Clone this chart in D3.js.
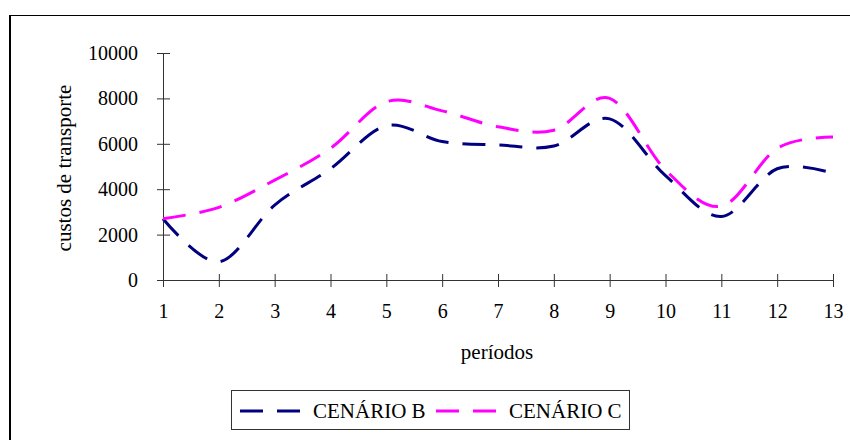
<!DOCTYPE html>
<html>
<head>
<meta charset="utf-8">
<script src="https://cdn.jsdelivr.net/npm/d3@7"></script>
<style>
  html, body { margin: 0; padding: 0; background: #fff; }
  svg { display: block; font-family: "Liberation Serif", "Times New Roman", serif; }
</style>
</head>
<body>
<svg id="chart" width="850" height="440"></svg>
<script>
// Transport costs per period for two scenarios
const periods = [1, 2, 3, 4, 5, 6, 7, 8, 9, 10, 11, 12, 13];
const cenarioB = [2700, 800, 3300, 4900, 6800, 6100, 5950, 5900, 7100, 4600, 2800, 4900, 4700];
const cenarioC = [2700, 3200, 4400, 5800, 7850, 7450, 6750, 6600, 8000, 4850, 3250, 5800, 6300];
const yTicks = [0, 2000, 4000, 6000, 8000, 10000];
const seriesNames = ["CENÁRIO B", "CENÁRIO C"];
const seriesColors = ["#000080", "#FF00FF"];

const svg = d3.select("#chart");
const dash = "23,14";
const serif = "Liberation Serif, Times New Roman, serif";

// outer frame
svg.append("line").attr("x1", 10).attr("y1", 15.5).attr("x2", 850).attr("y2", 15.5)
  .attr("stroke", "#000").attr("stroke-width", 1.2);
svg.append("line").attr("x1", 10).attr("y1", 15).attr("x2", 10).attr("y2", 440)
  .attr("stroke", "#000").attr("stroke-width", 2);

const x = d3.scalePoint().domain(periods).range([163, 833]);
const y = d3.scaleLinear().domain([0, 10000]).range([280, 53]);

// y axis
const yAxis = svg.append("g").attr("transform", "translate(163,0)")
  .call(d3.axisLeft(y).tickValues(yTicks).tickSize(0).tickPadding(25).tickFormat(d3.format("d")));
yAxis.select(".domain").attr("stroke", "#333");
yAxis.selectAll(".tick text").attr("font-size", 20).attr("fill", "#000").attr("font-family", serif);
yAxis.selectAll(".tick").append("line").attr("x1", -6).attr("x2", 7).attr("stroke", "#333");

// x axis
const xAxis = svg.append("g").attr("transform", "translate(0,280)")
  .call(d3.axisBottom(x).tickSize(0).tickPadding(24));
xAxis.select(".domain").attr("stroke", "#333");
xAxis.selectAll(".tick text").attr("font-size", 20).attr("fill", "#000").attr("font-family", serif);
xAxis.selectAll(".tick").append("line").attr("y1", -6).attr("y2", 7).attr("stroke", "#333");

// axis titles
svg.append("text").attr("transform", "translate(66,168) rotate(-90)")
  .attr("text-anchor", "middle").attr("dominant-baseline", "middle")
  .attr("font-size", 21).text("custos de transporte");
svg.append("text").attr("x", 497).attr("y", 359)
  .attr("text-anchor", "middle").attr("font-size", 21).text("períodos");

// series lines
const line = d3.line()
  .x((d, i) => x(periods[i]))
  .y(d => y(d))
  .curve(d3.curveCatmullRom.alpha(0));

[cenarioB, cenarioC].forEach((vals, k) => {
  svg.append("path").datum(vals)
    .attr("d", line)
    .attr("fill", "none")
    .attr("stroke", seriesColors[k])
    .attr("stroke-width", 3)
    .attr("stroke-dasharray", dash);
});

// legend
const lg = svg.append("g");
lg.append("rect").attr("x", 231.5).attr("y", 390.5).attr("width", 398).attr("height", 39)
  .attr("fill", "#fff").attr("stroke", "#333").attr("stroke-width", 1);
const legendX = [240, 436];
seriesNames.forEach((name, k) => {
  lg.append("line").attr("x1", legendX[k]).attr("x2", legendX[k] + 60)
    .attr("y1", 411).attr("y2", 411)
    .attr("stroke", seriesColors[k]).attr("stroke-width", 3).attr("stroke-dasharray", dash);
  lg.append("text").attr("x", legendX[k] + 73).attr("y", 418)
    .attr("font-size", 21).text(name);
});
</script>
</body>
</html>
